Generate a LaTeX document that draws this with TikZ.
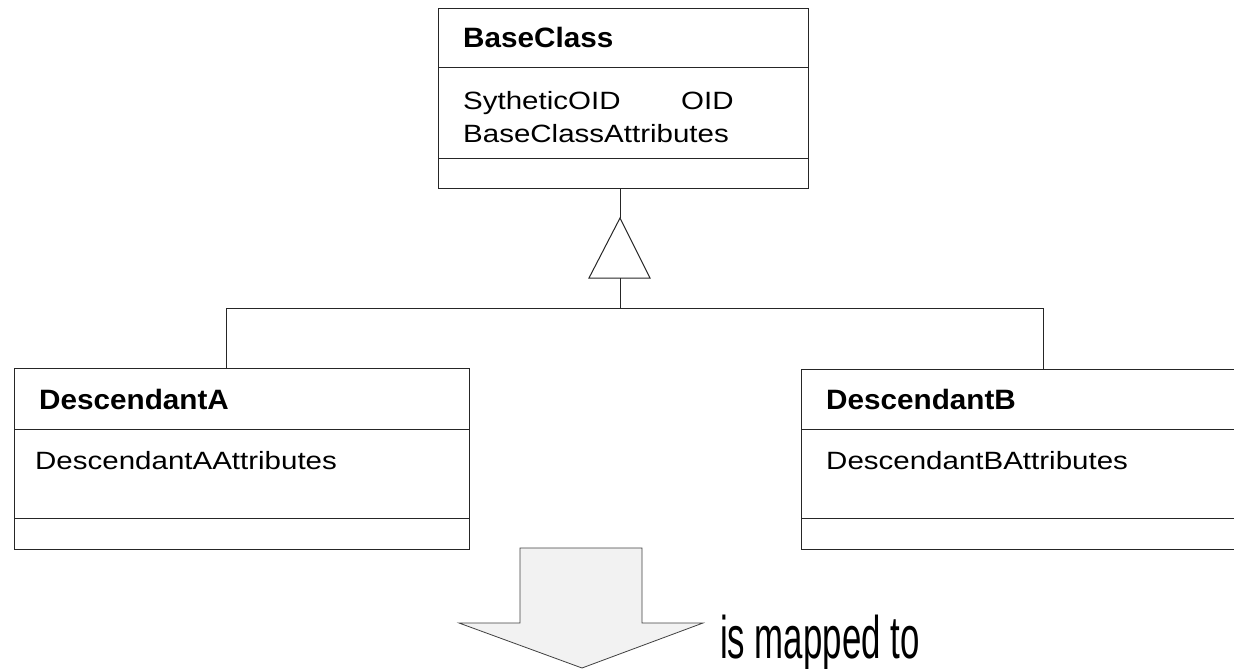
\documentclass[tikz,border=0pt]{standalone}
\usepackage{fontspec}
\setmainfont{Liberation Sans}
\usetikzlibrary{calc}
\newcommand\attrtext[1]{\scalebox{1.18}[1]{\fontsize{25}{30}\selectfont #1}}
\newcommand\titletext[1]{\scalebox{1.06}[1]{\fontsize{28}{33}\selectfont\bfseries #1}}
\begin{document}
\begin{tikzpicture}[x=1pt,y=-1pt,
  umlline/.style={draw=black!85,line width=1pt},
  classbox/.style={umlline,rectangle,inner sep=0pt,anchor=north west},
  txt/.style={inner sep=0pt,anchor=base west},
  bigarrow/.style={draw=black!75,line width=0.8pt,fill=black!5,line join=miter}]
\path[use as bounding box,clip] (0,0) rectangle (1234,669);

% BaseClass
\node[classbox,minimum width=370pt,minimum height=180pt] (base) at (438,8) {};
\draw[umlline] (438,68) -- (808,68) (438,158) -- (808,158);
\node[txt] (baseT) at (463,48) {\titletext{BaseClass}};
\node[txt] (baseA1) at (463,110) {\attrtext{SytheticOID}};
\node[txt] (baseA2) at (681,110) {\attrtext{OID}};
\node[txt] (baseA3) at (463,142) {\attrtext{BaseClassAttributes}};

% DescendantA
\node[classbox,minimum width=455pt,minimum height=181pt] (descA) at (14,368) {};
\draw[umlline] (14,429) -- (469,429) (14,518) -- (469,518);
\node[txt] (descAT) at (39,409) {\titletext{DescendantA}};
\node[txt] (descAA) at (35,469) {\attrtext{DescendantAAttributes}};

% DescendantB (runs past the right edge)
\node[classbox,minimum width=480pt,minimum height=180pt] (descB) at (801,369) {};
\draw[umlline] (801,429) -- (1290,429) (801,518) -- (1290,518);
\node[txt] (descBT) at (826,409) {\titletext{DescendantB}};
\node[txt] (descBA) at (826,469) {\attrtext{DescendantBAttributes}};

% generalisation: hollow triangle and tree connectors
\coordinate (apex) at (620,218);
\coordinate (triL) at (589,278);
\coordinate (triR) at (650,278);
\coordinate (triMid) at (620,278);
\coordinate (fork) at (620,308);
\coordinate (joinA) at (226,308);
\coordinate (joinB) at (1043,308);
\draw[umlline] (apex |- base.south) -- (apex);
\draw[umlline] (apex) -- (triL) -- (triR) -- cycle;
\draw[umlline] (triMid) -- (fork);
\draw[umlline] (joinA) -- (joinB);
\draw[umlline] (joinA) -- (joinA |- descA.north);
\draw[umlline] (joinB) -- (joinB |- descB.north);

% block arrow with caption
\draw[bigarrow] (520,548) -- (642,548) -- (642,623) -- (703,623) -- (582,668)
  -- (459,623) -- (520,623) -- cycle;
\node[txt] (maps) at (720,658) {\scalebox{0.58}[1]{\fontsize{60}{70}\selectfont is mapped to}};
\end{tikzpicture}
\end{document}
